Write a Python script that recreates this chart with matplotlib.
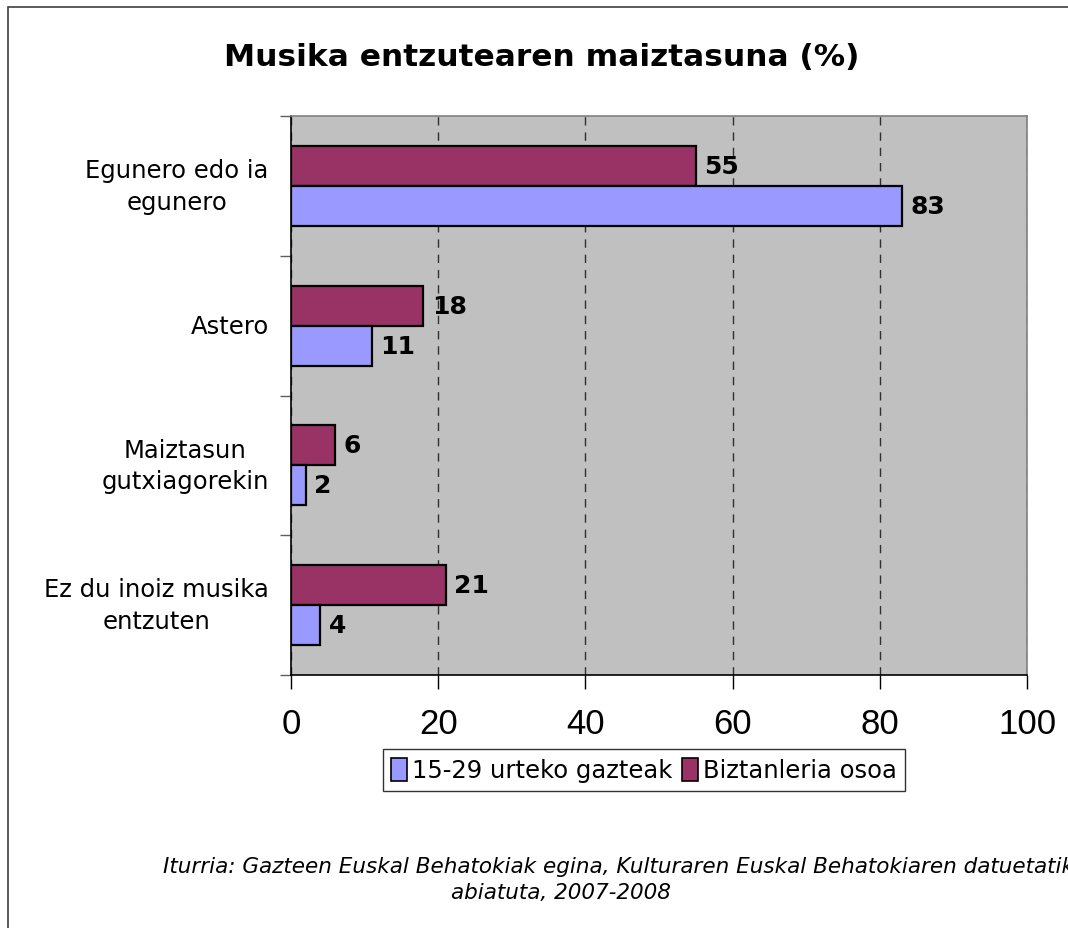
import matplotlib.pyplot as plt
from matplotlib.patches import Rectangle, Patch

categories = ["Egunero edo ia\negunero", "Astero", "Maiztasun\ngutxiagorekin", "Ez du inoiz musika\nentzuten"]
youth = [83, 11, 2, 4]
total = [55, 18, 6, 21]
series_names = ["15-29 urteko gazteak", "Biztanleria osoa"]
xticks = [0, 20, 40, 60, 80, 100]

blue = "#9999FF"
purple = "#993366"

fig = plt.figure(figsize=(10.68, 9.29), dpi=100)
ax = fig.add_axes([291 / 1068, 1 - 676 / 929, 736 / 1068, 559 / 929])
ax.set_facecolor("#C0C0C0")

# outer chart border (cut off on right and bottom)
fig.patches.append(Rectangle((8 / 1068, -0.1), 1.2, 1 - 8 / 929 + 0.1, transform=fig.transFigure,
                             fill=False, edgecolor="#404040", linewidth=1.2))

n = len(categories)
pos = [n - 1 - i for i in range(n)]
h = 0.286
ax.barh([p + h / 2 for p in pos], total, height=h, color=purple, edgecolor="black", linewidth=1.6, zorder=3)
ax.barh([p - h / 2 for p in pos], youth, height=h, color=blue, edgecolor="black", linewidth=1.6, zorder=3)

for p, v in zip(pos, total):
    ax.annotate(str(v), (v, p + h / 2), xytext=(6, 0), textcoords="offset points", va="center", ha="left",
                fontsize=18, fontweight="bold", family="DejaVu Sans")
for p, v in zip(pos, youth):
    ax.annotate(str(v), (v, p - h / 2), xytext=(6, 0), textcoords="offset points", va="center", ha="left",
                fontsize=18, fontweight="bold", family="DejaVu Sans")

ax.set_xlim(0, 100)
ax.set_ylim(-0.5, n - 0.5)

ax.set_xticks(xticks)
ax.set_xticklabels([str(t) for t in xticks], family="Liberation Sans", fontsize=25)
ax.tick_params(axis="x", direction="out", length=10, width=1, pad=13, color="black")
ax.xaxis.grid(True, linestyle=(0, (6, 5)), color="#303030", linewidth=1, zorder=1)

ax.set_yticks([b - 0.5 for b in range(n + 1)])
ax.set_yticklabels([])
ax.tick_params(axis="y", which="major", direction="out", length=8, width=1, color="#606060")
ax.set_yticks(pos, minor=True)
ax.set_yticklabels(categories, minor=True, fontsize=17.5, family="DejaVu Sans")
ax.tick_params(axis="y", which="minor", length=0, pad=16)
for lbl in ax.get_yticklabels(minor=True):
    lbl.set_multialignment("center")
    lbl.set_linespacing(1.4)
    lbl.set_verticalalignment("center")

ax.spines["left"].set_color("black")
ax.spines["bottom"].set_color("black")
ax.spines["top"].set_color("#808080")
ax.spines["right"].set_color("#808080")
for s in ax.spines.values():
    s.set_linewidth(1.2)

fig.text(542 / 1068, 1 - 58 / 929, "Musika entzutearen maiztasuna (%)", ha="center", va="center",
         fontsize=22.5, fontweight="bold", family="DejaVu Sans")

handles = [Patch(facecolor=blue, edgecolor="black", linewidth=1.2),
           Patch(facecolor=purple, edgecolor="black", linewidth=1.2)]
leg = fig.legend(handles, series_names, loc="center", bbox_to_anchor=(644 / 1068, 1 - 771 / 929), ncol=2,
                 frameon=True, fancybox=False, edgecolor="black", handlelength=0.65,
                 handleheight=1.1, handletextpad=0.2, columnspacing=0.4, borderpad=0.35,
                 prop={"family": "DejaVu Sans", "size": 17.5})
leg.get_frame().set_linewidth(1)

fig.text(163 / 1068, 1 - 867 / 929,
         "Iturria: Gazteen Euskal Behatokiak egina, Kulturaren Euskal Behatokiaren datuetatik",
         ha="left", va="center", fontsize=15.5, style="italic", family="DejaVu Sans")
fig.text(561 / 1068, 1 - 893 / 929, "abiatuta, 2007-2008", ha="center", va="center",
         fontsize=15.5, style="italic", family="DejaVu Sans")

fig.savefig("out.png", dpi=100)
